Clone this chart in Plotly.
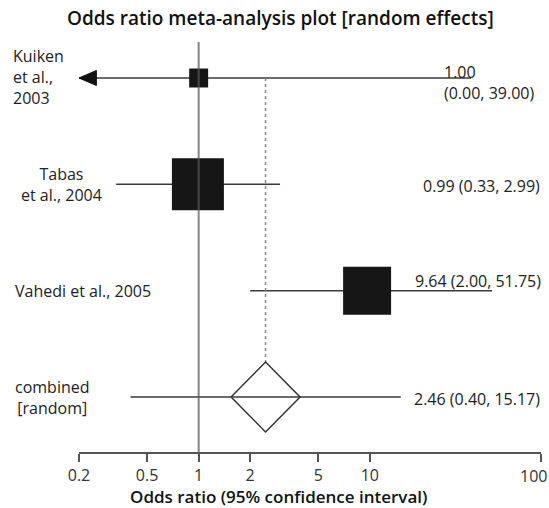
import math
import plotly.graph_objects as go

# ---------------- data ----------------
study_labels = ["Kuiken<br>et al.,<br>2003", "Tabas<br>et al., 2004", "Vahedi et al., 2005"]
odds_ratio = [1.00, 0.99, 9.64]
ci_low = [0.00, 0.33, 2.00]
ci_high = [39.00, 2.99, 51.75]
weights = [6.7, 50.4, 42.9]          # study weights (%) -> square area

combined_label = "combined<br>[random]"
combined_or = 2.46
combined_low = 0.40
combined_high = 15.17

tick_vals = [0.2, 0.5, 1, 2, 5, 10, 100]
tick_text = ["0.2", "0.5", "1", "2", "5", "10", "100"]

# ---------------- layout geometry ----------------
W, H = 549, 508
ML, MR, MT, MB = 79, 8, 42, 56
plot_w = W - ML - MR
plot_h = H - MT - MB
x_min, x_max = tick_vals[0], tick_vals[-1]
px_per_dec = plot_w / (math.log10(x_max) - math.log10(x_min))

rows = [4, 3, 2]          # study rows (top to bottom)
comb_row = 1
px_per_row = 106.33
y_lo = comb_row - 55 / px_per_row
y_hi = rows[0] + 36 / px_per_row

FONT = "Open Sans"
TXT = "#222222"
LINE = "#3a3a3a"

def px2paper(p):
    return (p - ML) / plot_w

def py2paper(p):
    return (MT + plot_h - p) / plot_h

def fmt(o, l, h):
    return f"{o:.2f} ({l:.2f}, {h:.2f})"

fig = go.Figure()

# confidence-interval lines
for i, r in enumerate(rows):
    lo = max(ci_low[i], x_min)
    fig.add_trace(go.Scatter(x=[lo, ci_high[i]], y=[r, r], mode="lines",
                             line=dict(color=LINE, width=1.5), hoverinfo="skip",
                             showlegend=False, cliponaxis=False))
    if ci_low[i] < x_min:
        # arrow showing truncated lower limit
        back = x_min * 10 ** (17.4 / px_per_dec)
        hh = 7.5 / px_per_row
        fig.add_trace(go.Scatter(x=[x_min, back, back, x_min], y=[r, r + hh, r - hh, r],
                                 mode="lines", fill="toself", fillcolor="#111111",
                                 line=dict(color="#111111", width=1), hoverinfo="skip",
                                 showlegend=False, cliponaxis=False))

fig.add_trace(go.Scatter(x=[combined_low, combined_high], y=[comb_row, comb_row], mode="lines",
                         line=dict(color=LINE, width=1.5), hoverinfo="skip", showlegend=False))

# dotted line at pooled estimate
dh = 35 / px_per_row
fig.add_trace(go.Scatter(x=[combined_or, combined_or], y=[rows[0], comb_row + dh], mode="lines",
                         line=dict(color="#888888", width=1.5, dash="dot"),
                         hoverinfo="skip", showlegend=False))

# squares
k = 52 / math.sqrt(max(weights))
fig.add_trace(go.Scatter(x=odds_ratio, y=rows, mode="markers",
                         marker=dict(symbol="square", color="#161616", opacity=1,
                                     size=[k * math.sqrt(w) for w in weights],
                                     line=dict(width=0)),
                         hoverinfo="skip", showlegend=False, cliponaxis=False))

# reference line at OR = 1
fig.add_trace(go.Scatter(x=[1, 1], y=[y_lo, y_hi], mode="lines",
                         line=dict(color="rgba(90,90,90,0.75)", width=2),
                         hoverinfo="skip", showlegend=False, cliponaxis=False))

# diamond for combined estimate
f = 10 ** (34.5 / px_per_dec)
fig.add_trace(go.Scatter(x=[combined_or / f, combined_or, combined_or * f, combined_or, combined_or / f],
                         y=[comb_row, comb_row + dh, comb_row, comb_row - dh, comb_row],
                         mode="lines", line=dict(color="#333333", width=1.5),
                         hoverinfo="skip", showlegend=False))

ann = []
# left labels
left_pos = [(11, "left", "left", 1), (61, "center", "center", 0), (83, "center", "center", 0)]
for lab, r, (p, xa, al, ys) in zip(study_labels, rows, left_pos):
    ann.append(dict(x=px2paper(p), xref="paper", y=r, yref="y", text=lab, showarrow=False,
                    xanchor=xa, align=al, yanchor="middle", yshift=ys,
                    font=dict(family=FONT, size=16, color=TXT)))
ann.append(dict(x=px2paper(52.5), xref="paper", y=comb_row, yref="y", text=combined_label,
                showarrow=False, xanchor="center", align="center", yanchor="middle",
                font=dict(family=FONT, size=16, color=TXT)))

# right-hand estimates
ann.append(dict(x=px2paper(442), xref="paper", y=rows[0], yref="y",
                text=f"{odds_ratio[0]:.2f}<br>({ci_low[0]:.2f}, {ci_high[0]:.2f})",
                showarrow=False, xanchor="left", align="left", yanchor="middle", yshift=-4,
                font=dict(family=FONT, size=16, color=TXT)))
ann.append(dict(x=px2paper(542), xref="paper", y=rows[1], yref="y",
                text=fmt(odds_ratio[1], ci_low[1], ci_high[1]), showarrow=False,
                xanchor="right", yanchor="middle", yshift=-2,
                font=dict(family=FONT, size=16, color=TXT)))
ann.append(dict(x=px2paper(543), xref="paper", y=rows[2], yref="y",
                text=fmt(odds_ratio[2], ci_low[2], ci_high[2]), showarrow=False,
                xanchor="right", yanchor="middle", yshift=10,
                font=dict(family=FONT, size=16, color=TXT)))
ann.append(dict(x=px2paper(542), xref="paper", y=comb_row, yref="y",
                text=fmt(combined_or, combined_low, combined_high), showarrow=False,
                xanchor="right", yanchor="middle", yshift=-2,
                font=dict(family=FONT, size=16, color=TXT)))

# last tick label (kept inside the page like the reference)
ann.append(dict(x=px2paper(549), xref="paper", y=py2paper(475.5), yref="paper",
                text=tick_text[-1], showarrow=False, xanchor="right", yanchor="middle",
                font=dict(family=FONT, size=16, color="#333333")))

# title and axis title
ann.append(dict(x=px2paper(280), xref="paper", y=py2paper(18), yref="paper",
                text="Odds ratio meta-analysis plot [random effects]", showarrow=False,
                xanchor="center", yanchor="middle",
                font=dict(family=FONT, size=19, color="#111111", weight=600)))
ann.append(dict(x=px2paper(278), xref="paper", y=py2paper(496.5), yref="paper",
                text="Odds ratio (95% confidence interval)", showarrow=False,
                xanchor="center", yanchor="middle",
                font=dict(family=FONT, size=17, color="#111111", weight=600)))

fig.update_layout(
    width=W, height=H,
    margin=dict(l=ML, r=MR, t=MT, b=MB, pad=0),
    paper_bgcolor="white", plot_bgcolor="white",
    showlegend=False,
    annotations=ann,
    xaxis=dict(type="log", range=[math.log10(x_min) - 1e-7, math.log10(x_max) + 1e-7],
               tickvals=tick_vals, ticktext=tick_text[:-1] + [""],
               showgrid=False, zeroline=False, automargin=False,
               showline=True, linecolor="#555555", linewidth=1.5,
               ticks="outside", ticklen=8, tickwidth=1.5, tickcolor="#555555",
               tickfont=dict(family=FONT, size=16, color="#333333")),
    yaxis=dict(range=[y_lo, y_hi], visible=False, showgrid=False, zeroline=False),
)

fig.write_html("out.html", config={"displayModeBar": False},
               post_script="document.body.style.margin='0';document.body.style.padding='0';")
